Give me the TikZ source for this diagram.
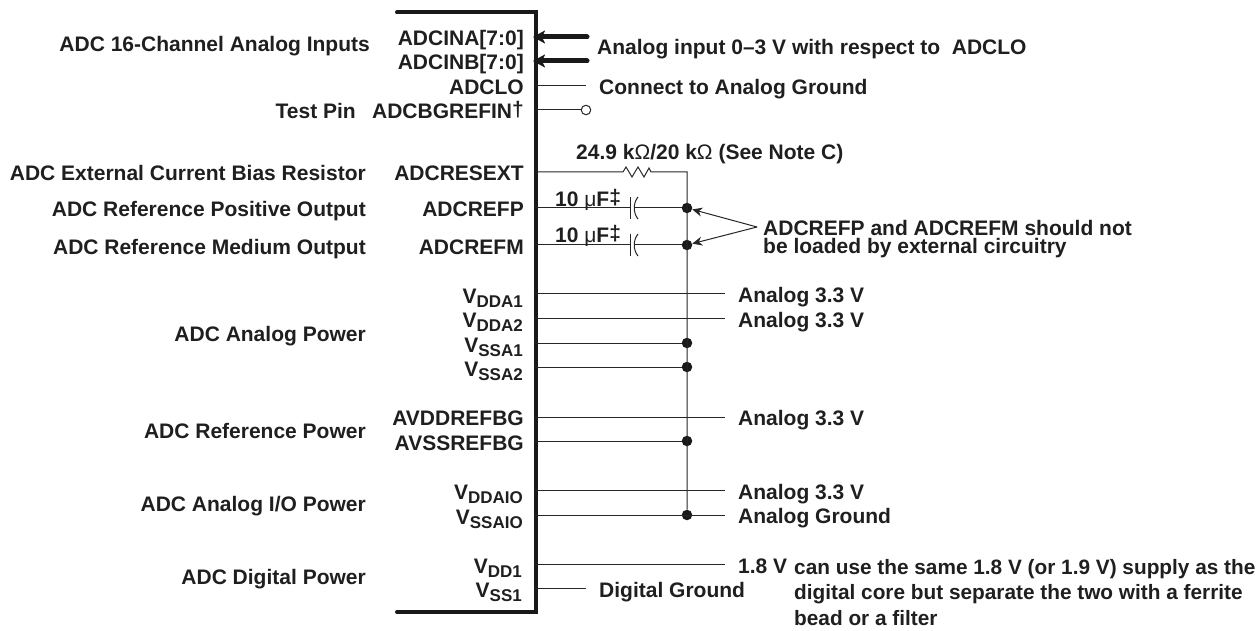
\documentclass[tikz,border=0pt]{standalone}
\usepackage{fontspec}
\setmainfont{Liberation Sans}
\usetikzlibrary{arrows.meta}
\tikzset{
 x=1pt,y=-1pt,
 lab/.style={inner sep=0pt,font=\fontsize{21}{24}\selectfont\bfseries,text=black!88},
 rl/.style={lab,anchor=base east},
 ll/.style={lab,anchor=base west},
 wire/.style={line width=1pt,draw=black!85},
 bus/.style={line width=5pt,line cap=round,draw=black!90,-{Stealth[length=12pt,width=13pt,inset=3pt]}},
 dotn/.style={circle,fill=black!90,inner sep=0pt,minimum size=10.5pt},
 opn/.style={circle,draw=black!85,fill=white,line width=1pt,inner sep=0pt,minimum size=9.5pt},
 arr/.style={line width=1pt,draw=black!85,-{Stealth[length=10pt,width=9pt]}},
}
\newcommand{\VV}[1]{V\raisebox{-4.5pt}{\fontsize{17}{19}\selectfont #1}}
\newcommand{\Om}{{\mdseries Ω}}
\newcommand{\mic}{{\mdseries μ}}
\begin{document}
\begin{tikzpicture}
\useasboundingbox (0,0) rectangle (1259,631);
% body
\draw[line width=4pt,draw=black!90,line cap=round] (397,12.5) -- (536,12.5) -- (536,612) -- (397,612);
% anchor coordinates on the right edge of the body
\foreach \n/\y in {ina/37,inb/61,lo/86,bg/110,res/172,refp/208,refm/245,dda1/294,dda2/318,ssa1/343,ssa2/367,avdd/417,avss/441,ddaio/490.5,ssaio/515,dd1/564,ss1/588.5}{
 \coordinate (p\n) at (535,\y);
}
% pin names
\node[rl] (tina) at (524,45.5) {ADCINA[7:0]};
\node[rl] (tinb) at (524,70) {ADCINB[7:0]};
\node[rl] (tlo) at (524,94.5) {ADCLO};
\node[rl] (tbg) at (524,119) {ADCBGREFIN\raisebox{2pt}{†}};
\node[rl] (tres) at (524,180.5) {ADCRESEXT};
\node[rl] (trefp) at (524,217) {ADCREFP};
\node[rl] (trefm) at (524,254.5) {ADCREFM};
\node[rl] (tdda1) at (523,303) {\VV{DDA1}};
\node[rl] (tdda2) at (523,327) {\VV{DDA2}};
\node[rl] (tssa1) at (523,352) {\VV{SSA1}};
\node[rl] (tssa2) at (523,376) {\VV{SSA2}};
\node[rl] (tavdd) at (524,425) {AVDDREFBG};
\node[rl] (tavss) at (524,450) {AVSSREFBG};
\node[rl] (tddaio) at (523,499) {\VV{DDAIO}};
\node[rl] (tssaio) at (523,524) {\VV{SSAIO}};
\node[rl] (tdd1) at (522,573) {\VV{DD1}};
\node[rl] (tss1) at (522,597) {\VV{SS1}};
% left labels
\node[rl] (l1) at (370,52) {ADC 16-Channel Analog Inputs};
\node[rl] (l2) at (356,118.5) {Test Pin};
\node[rl] (l3) at (366,181) {ADC External Current Bias Resistor};
\node[rl] (l4) at (366,217) {ADC Reference Positive Output};
\node[rl] (l5) at (366,254.5) {ADC Reference Medium Output};
\node[rl] (l6) at (366,341.5) {ADC Analog Power};
\node[rl] (l7) at (366,438.5) {ADC Reference Power};
\node[rl] (l8) at (366,511.5) {ADC Analog I/O Power};
\node[rl] (l9) at (366,584.5) {ADC Digital Power};
% right labels
\node[ll] (r1) at (597,55) {Analog input 0–3 V with respect to\ \ ADCLO};
\node[ll] (r2) at (599,94.5) {Connect to Analog Ground};
\node[ll] (r3) at (576,160) {24.9 k\Om/20 k\Om\ (See Note C)};
\node[ll] (r4) at (555,207) {10 \mic F\raisebox{2pt}{‡}};
\node[ll] (r5) at (555,243) {10 \mic F\raisebox{2pt}{‡}};
\node[lab,anchor=north west,align=left,font=\fontsize{21}{18}\selectfont\bfseries] (r6) at (763,220) {ADCREFP and ADCREFM should not\\be loaded by external circuitry};
\node[ll] (a1) at (738,302) {Analog 3.3 V};
\node[ll] (a2) at (738,327) {Analog 3.3 V};
\node[ll] (a3) at (738,425) {Analog 3.3 V};
\node[ll] (a4) at (738,499) {Analog 3.3 V};
\node[ll] (a5) at (738,523.5) {Analog Ground};
\node[ll] (a6) at (738,573) {1.8 V};
\node[ll] (a7) at (599,597.5) {Digital Ground};
\node[lab,anchor=north west,align=left,font=\fontsize{20.8}{25.5}\selectfont\bfseries] (n) at (794,559) {can use the same 1.8 V (or 1.9 V) supply as the\\digital core but separate the two with a ferrite\\bead or a filter};
% ends
\coordinate (eina) at (587,37);
\coordinate (einb) at (587,61);
\coordinate (tia) at (533,37);
\coordinate (tib) at (533,61);
\coordinate (elo) at (586,86);
\node[opn] (ebg) at (586,110) {};
\coordinate (tr) at (687,172);
\coordinate (rs) at (623,172);
\coordinate (re) at (651,172);
\coordinate (ed1) at (725,294);
\coordinate (ed2) at (725,318);
\coordinate (eav) at (725,417);
\coordinate (eio) at (725,490.5);
\coordinate (eg) at (725,515);
\coordinate (ed) at (725,564);
\coordinate (es) at (586,588.5);
\coordinate (v) at (757,227);
% buses
\draw[bus] (eina) -- (tia);
\draw[bus] (einb) -- (tib);
% dots
\node[dotn] (ja) at (687,208) {};
\node[dotn] (jb) at (687,245) {};
\node[dotn] (jc) at (687,343) {};
\node[dotn] (jd) at (687,367) {};
\node[dotn] (je) at (687,441) {};
\node[dotn] (jf) at (687,515) {};
% wires
\draw[wire] (plo) -- (elo);
\draw[wire] (pbg) -- (ebg);
\draw[wire] (pres) -- (rs) -- ++(3,-5) -- ++(6,10) -- ++(6,-10) -- ++(6,10) -- ++(5,-9) -- (re) -- (tr) -- (jf);
\draw[wire] (pdda1) -- (ed1);
\draw[wire] (pdda2) -- (ed2);
\draw[wire] (pavdd) -- (eav);
\draw[wire] (pddaio) -- (eio);
\draw[wire] (pssaio) -- (eg);
\draw[wire] (pdd1) -- (ed);
\draw[wire] (pss1) -- (es);
\draw[wire] (pssa1) -- (jc);
\draw[wire] (pssa2) -- (jd);
\draw[wire] (pavss) -- (je);
% capacitors
\foreach \j/\p/\y in {a/refp/208,b/refm/245}{
 \draw[wire] (p\p) -- (630.5,\y);
 \draw[wire] (630.5,\y-11) -- (630.5,\y+11);
 \draw[wire] (j\j) -- (634,\y);
 \draw[wire] (638,\y-11) .. controls (633,\y-5) and (633,\y+5) .. (638,\y+11);
}
% note arrows
\draw[arr] (v) -- (ja);
\draw[arr] (v) -- (jb);
\end{tikzpicture}
\end{document}
